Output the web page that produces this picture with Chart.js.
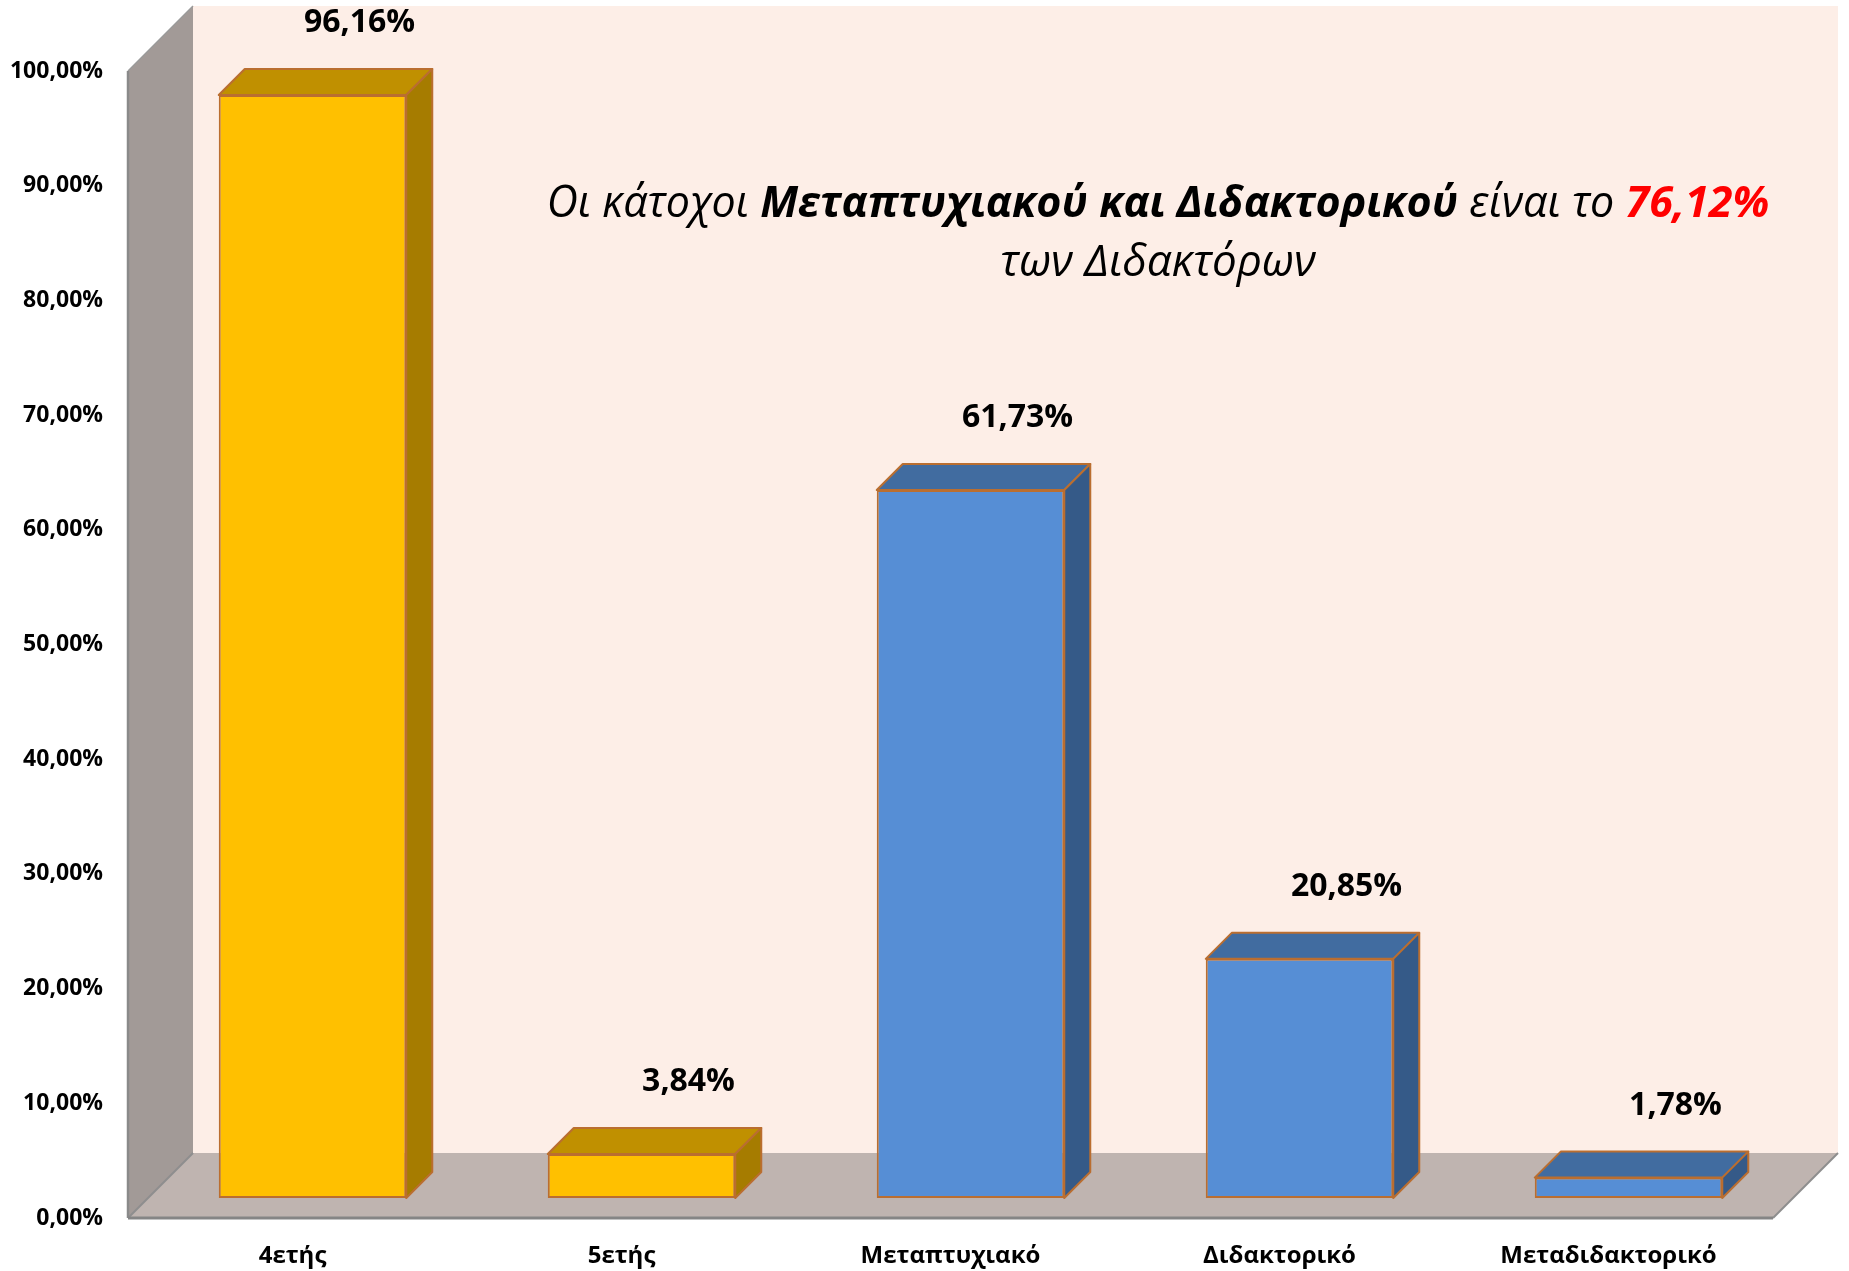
<!DOCTYPE html>
<html>
<head>
<meta charset="utf-8">
<script src="https://cdn.jsdelivr.net/npm/chart.js@4.4.1/dist/chart.umd.min.js"></script>
<style>
  body { margin: 0; background: #fff; }
</style>
</head>
<body>
<canvas id="chart" width="1849" height="1271"></canvas>
<script>
const categories = ['4ετής', '5ετής', 'Μεταπτυχιακό', 'Διδακτορικό', 'Μεταδιδακτορικό'];
const values = [96.16, 3.84, 61.73, 20.85, 1.78];
const yTicks = [0, 10, 20, 30, 40, 50, 60, 70, 80, 90, 100];
const noteLine1 = ['Οι κάτοχοι ', 'Μεταπτυχιακού και Διδακτορικού', ' είναι το ', '76,12%'];
const noteLine2 = 'των Διδακτόρων';

const FONT = "'Open Sans', sans-serif";
const D = 65;   // depth of the walls
const G = 20;   // how far the bars sit behind the front plane
const B = 26;   // bar depth

// yellow for the degrees, blue for the postgraduate titles
const front = ['#FFC000', '#FFC000', '#568ED5', '#568ED5', '#568ED5'];
const top_ = ['#C09000', '#C09000', '#416CA0', '#416CA0', '#416CA0'];
const side = ['#A67C00', '#A67C00', '#355A88', '#355A88', '#355A88'];
const edge = '#BA6E30';

function fmt(v) {
  return v.toFixed(2).replace('.', ',') + '%';
}

function poly(ctx, pts, fill, stroke) {
  ctx.beginPath();
  ctx.moveTo(pts[0][0], pts[0][1]);
  for (let i = 1; i < pts.length; i++) ctx.lineTo(pts[i][0], pts[i][1]);
  ctx.closePath();
  if (fill) { ctx.fillStyle = fill; ctx.fill(); }
  if (stroke) { ctx.strokeStyle = stroke; ctx.lineWidth = 2; ctx.lineJoin = 'round'; ctx.stroke(); }
}

function line(ctx, x1, y1, x2, y2, color, w) {
  ctx.beginPath();
  ctx.moveTo(x1, y1);
  ctx.lineTo(x2, y2);
  ctx.strokeStyle = color;
  ctx.lineWidth = w;
  ctx.stroke();
}

const box3d = {
  id: 'box3d',
  beforeDraw(chart) {
    const ctx = chart.ctx, a = chart.chartArea;
    ctx.save();
    ctx.fillStyle = '#fff';
    ctx.fillRect(0, 0, chart.width, chart.height);
    // back wall
    ctx.fillStyle = '#FDEEE7';
    ctx.fillRect(a.left + D, a.top - D, a.right - a.left, a.bottom - a.top);
    // left wall and floor
    poly(ctx, [[a.left, a.top], [a.left + D, a.top - D], [a.left + D, a.bottom - D], [a.left, a.bottom]], '#A29A97');
    poly(ctx, [[a.left, a.bottom], [a.left + D, a.bottom - D], [a.right + D, a.bottom - D], [a.right, a.bottom]], '#BFB4B0');
    line(ctx, a.left, a.top, a.left + D, a.top - D, '#9A9A9A', 1.5);
    line(ctx, a.left, a.bottom, a.left + D, a.bottom - D, '#8E8E8E', 2);
    line(ctx, a.right, a.bottom, a.right + D, a.bottom - D, '#8E8E8E', 2);
    line(ctx, a.left, a.top, a.left, a.bottom, '#8A8A8A', 2.5);
    line(ctx, a.left, a.bottom, a.right, a.bottom, '#858585', 3);
    ctx.restore();
  },
  beforeDatasetsDraw(chart) {
    chart.ctx.save();
    chart.ctx.translate(G, -G);
  },
  afterDatasetsDraw(chart) {
    const ctx = chart.ctx;
    const bars = chart.getDatasetMeta(0).data;
    bars.forEach((bar, i) => {
      const p = bar.getProps(['x', 'y', 'base', 'width'], true);
      const l = p.x - p.width / 2, r = p.x + p.width / 2;
      poly(ctx, [[l, p.y], [r, p.y], [r + B, p.y - B], [l + B, p.y - B]], top_[i], edge);
      poly(ctx, [[r, p.y], [r + B, p.y - B], [r + B, p.base - B], [r, p.base]], side[i], edge);
    });
    // value labels
    ctx.fillStyle = '#000';
    ctx.font = 'bold 32px ' + FONT;
    ctx.textAlign = 'center';
    ctx.textBaseline = 'middle';
    bars.forEach((bar, i) => {
      ctx.fillText(fmt(values[i]), bar.x + 47, bar.y - 72);
    });
    ctx.restore();
  },
  afterDraw(chart) {
    const ctx = chart.ctx;
    const cx = 1158;
    ctx.save();
    ctx.textBaseline = 'alphabetic';
    ctx.textAlign = 'left';
    const styles = [
      ['italic 43px ' + FONT, '#000'],
      ['italic bold 43px ' + FONT, '#000'],
      ['italic 43px ' + FONT, '#000'],
      ['italic bold 43px ' + FONT, '#FF0000']
    ];
    let total = 0;
    const widths = noteLine1.map((t, i) => {
      ctx.font = styles[i][0];
      const w = ctx.measureText(t).width;
      total += w;
      return w;
    });
    let x = cx - total / 2;
    noteLine1.forEach((t, i) => {
      ctx.font = styles[i][0];
      ctx.fillStyle = styles[i][1];
      ctx.fillText(t, x, 217);
      x += widths[i];
    });
    ctx.font = 'italic 44px ' + FONT;
    ctx.fillStyle = '#000';
    ctx.textAlign = 'center';
    ctx.fillText(noteLine2, cx, 276);
    ctx.restore();
  }
};

new Chart(document.getElementById('chart'), {
  type: 'bar',
  data: {
    labels: categories,
    datasets: [{
      data: values,
      backgroundColor: front,
      borderColor: edge,
      borderWidth: 2,
      borderSkipped: false,
      barPercentage: 0.57,
      categoryPercentage: 1,
      clip: false
    }]
  },
  options: {
    responsive: false,
    animation: false,
    devicePixelRatio: 1,
    layout: { padding: { top: 71, right: 76, left: 0, bottom: 0 } },
    plugins: {
      legend: { display: false },
      tooltip: { enabled: false }
    },
    scales: {
      x: {
        grid: { display: false },
        border: { display: false },
        ticks: { color: '#000', font: { family: FONT, size: 24, weight: 'bold' }, padding: 16, maxRotation: 0 },
        afterFit(scale) { scale.height = 53; }
      },
      y: {
        min: 0,
        max: 100,
        grid: { display: false },
        border: { display: false },
        afterBuildTicks(scale) { scale.ticks = yTicks.map(v => ({ value: v })); },
        ticks: {
          color: '#000',
          font: { family: FONT, size: 23, weight: 'bold' },
          padding: 17,
          callback: v => fmt(v)
        },
        afterFit(scale) { scale.width = 128; }
      }
    }
  },
  plugins: [box3d]
});
</script>
</body>
</html>
